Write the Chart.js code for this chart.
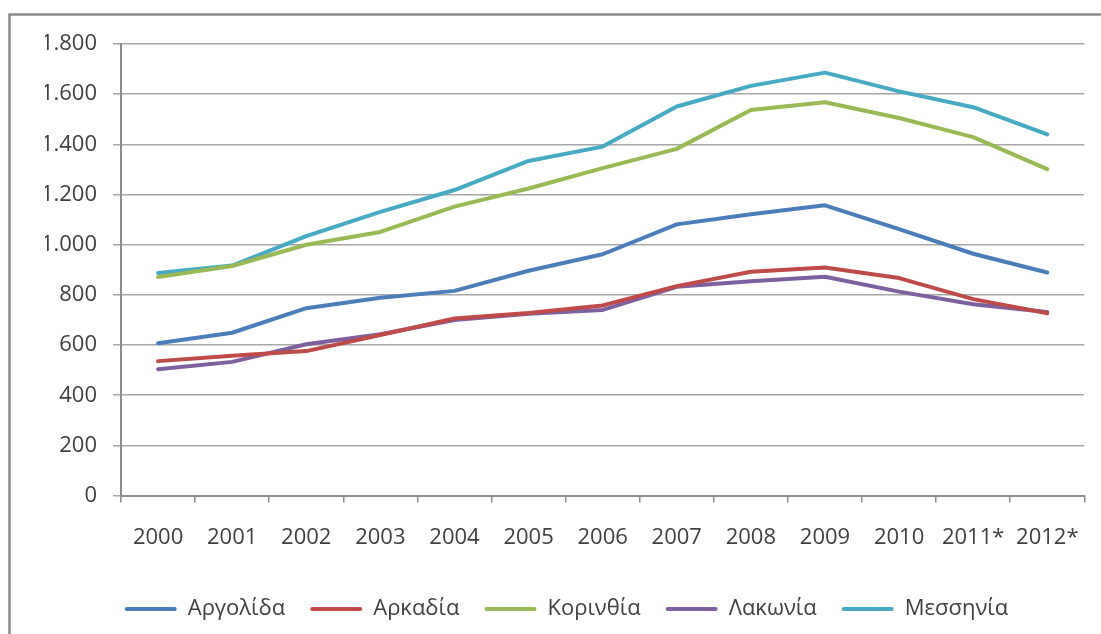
<!DOCTYPE html>
<html lang="el">
<head>
<meta charset="utf-8">
<title>Πελοπόννησος 2000-2012</title>
<script src="https://cdn.jsdelivr.net/npm/chart.js@4/dist/chart.umd.min.js"></script>
<style>
  html, body { margin: 0; padding: 0; background: #ffffff; }
  #wrap { position: relative; width: 1101px; height: 634px; }
</style>
</head>
<body>
<div id="wrap"><canvas id="chart" width="1101" height="634"></canvas></div>
<script>
"use strict";

// Years on the x axis (* = provisional)
const years = ["2000", "2001", "2002", "2003", "2004", "2005", "2006",
               "2007", "2008", "2009", "2010", "2011*", "2012*"];

// One series per prefecture
const argolida  = [607, 649, 747, 789, 816, 896, 962, 1081, 1121, 1157, 1062, 964, 889];
const arkadia   = [536, 557, 576, 640, 706, 728, 758, 835, 892, 909, 867, 783, 727];
const korinthia = [871, 915, 1000, 1051, 1152, 1224, 1305, 1382, 1537, 1568, 1505, 1429, 1301];
const lakonia   = [504, 533, 603, 643, 700, 725, 740, 832, 854, 872, 813, 763, 732];
const messinia  = [887, 917, 1034, 1131, 1218, 1334, 1391, 1551, 1633, 1686, 1611, 1548, 1440];

// Value axis ticks
const yMin = 0;
const yMax = 1800;
const yStep = 200;

const FONT = "'Open Sans', 'Noto Sans', sans-serif";

// Thousands separated with a dot, Greek style
function formatThousands(v) {
  return String(v).replace(/\B(?=(\d{3})+(?!\d))/g, ".");
}

function series(label, data, color) {
  return {
    label: label,
    data: data,
    borderColor: color,
    backgroundColor: color,
    borderWidth: 4,
    pointRadius: 0,
    pointHoverRadius: 0,
    tension: 0,
    fill: false,
    borderCapStyle: "round",
    borderJoinStyle: "round"
  };
}

// Grey frame round the whole chart
const framePlugin = {
  id: "frame",
  beforeDraw(chart) {
    const ctx = chart.ctx;
    ctx.save();
    ctx.fillStyle = "#ffffff";
    ctx.fillRect(0, 0, chart.width, chart.height);
    ctx.strokeStyle = "#8a8a8a";
    ctx.lineWidth = 2.5;
    ctx.strokeRect(9.5, 14.5, chart.width + 20, chart.height + 20);
    ctx.restore();
  }
};

const ctx = document.getElementById("chart");

new Chart(ctx, {
  type: "line",
  data: {
    labels: years,
    datasets: [
      series("Αργολίδα", argolida, "#4a7ebb"),
      series("Αρκαδία", arkadia, "#be4b48"),
      series("Κορινθία", korinthia, "#98b954"),
      series("Λακωνία", lakonia, "#7d60a0"),
      series("Μεσσηνία", messinia, "#46aac5")
    ]
  },
  options: {
    responsive: false,
    animation: false,
    layout: {
      // left padding only pushes the legend right; the y axis width makes up for it
      padding: { top: 44, right: 13, bottom: 4, left: 45 }
    },
    plugins: {
      tooltip: { enabled: false },
      legend: {
        position: "bottom",
        labels: {
          color: "#404040",
          font: { family: FONT, size: 22 },
          boxWidth: 52,
          boxHeight: 4,
          padding: 25,
          generateLabels(chart) {
            const items = Chart.defaults.plugins.legend.labels.generateLabels(chart);
            return items.map(it => Object.assign(it, { lineWidth: 0, borderRadius: 2 }));
          }
        }
      }
    },
    scales: {
      x: {
        offset: true,
        grid: {
          offset: true,
          drawOnChartArea: false,
          drawTicks: true,
          tickLength: 7,
          color: "#8c8c8c",
          lineWidth: 1.5
        },
        border: { color: "#8c8c8c", width: 2 },
        ticks: {
          color: "#404040",
          font: { family: FONT, size: 22 },
          padding: 22,
          maxRotation: 0,
          autoSkip: false
        }
      },
      y: {
        min: yMin,
        max: yMax,
        afterFit(scale) { scale.width = 76; },
        grid: {
          color: "#a6a6a6",
          lineWidth: 1.5,
          tickLength: 8
        },
        border: { color: "#8c8c8c", width: 2 },
        ticks: {
          stepSize: yStep,
          color: "#404040",
          font: { family: FONT, size: 22 },
          padding: 16,
          callback: v => formatThousands(v)
        }
      }
    }
  },
  plugins: [framePlugin]
});
</script>
</body>
</html>
